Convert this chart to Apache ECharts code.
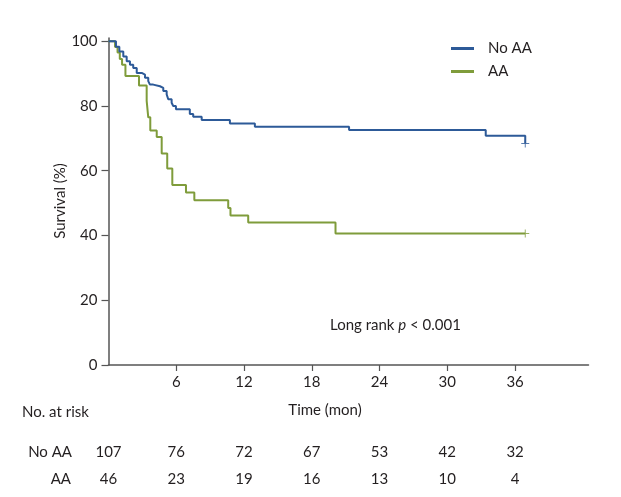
<!DOCTYPE html>
<html><head><meta charset="utf-8">
<script src="https://cdn.jsdelivr.net/npm/echarts@6/dist/echarts.min.js"></script>
<style>html,body{margin:0;padding:0;background:#fff}#c{width:621px;height:497px}</style>
</head><body><div id="c"></div>
<script>
// Kaplan-Meier step data (time in months, survival % after the event)
const noAATime = [0, 0.66, 0.96, 1.31, 1.61, 1.9, 2.19, 2.5, 2.94, 3.23, 3.52, 3.67, 3.96, 4.56, 4.85, 5.15, 5.29, 5.59, 5.73, 5.97, 7.2, 7.5, 8.25, 10.75, 12.96, 21.3, 33.4, 36.9];
const noAASurv = [100, 98.3, 96.8, 95.3, 93.8, 92.7, 91.7, 90.2, 89.7, 88.7, 87.7, 86.6, 86.1, 85.6, 84.6, 83.6, 82.1, 81.0, 80.0, 79.0, 77.5, 76.7, 75.7, 74.6, 73.6, 72.6, 70.8, 68.4];
const aaTime = [0, 0.58, 0.8, 1.0, 1.2, 1.5, 2.7, 3.38, 3.52, 3.7, 4.27, 4.71, 5.2, 5.65, 6.86, 7.6, 10.6, 10.8, 12.37, 20.1, 36.9];
const aaSurv = [100, 98.2, 96.5, 94.5, 92.7, 89.3, 86.3, 81.6, 76.5, 72.4, 70.4, 65.3, 60.7, 55.6, 53.3, 50.9, 48.5, 46.2, 44.0, 40.6, 40.6];
const censorNoAA = [[36.9, 68.4]];
const censorAA = [[36.9, 40.6]];
const xTicks = [6, 12, 18, 24, 30, 36];
const yTicks = [0, 20, 40, 60, 80, 100];
const riskTimes = [0, 6, 12, 18, 24, 30, 36];
const riskNoAA = [107, 76, 72, 67, 53, 42, 32];
const riskAA = [46, 23, 19, 16, 13, 10, 4];
const groupNames = ['No AA', 'AA'];

const BLUE = '#2d5a98';
const GREEN = '#7f9c3b';
const TXT = '#231f20';
const FONT = 'Lato';
const plus = 'path://M-0.12,-1H0.12V1H-0.12Z M-1,-0.12H1V0.12H-1Z';

const chart = echarts.init(document.getElementById('c'), null, {renderer: 'canvas'});
const zip = (a, b) => a.map((t, i) => [t, b[i]]);

chart.setOption({
  animation: false,
  textStyle: {fontFamily: FONT, color: TXT},
  grid: {left: 108.5, top: 38, width: 480, height: 327},
  legend: {
    data: groupNames, orient: 'vertical', left: 446, top: 36,
    icon: 'rect', itemWidth: 23, itemHeight: 3, itemGap: 8,
    textStyle: {fontFamily: FONT, fontSize: 15, color: TXT, padding: [0, 0, 0, 9]}
  },
  xAxis: {
    type: 'value', min: 0, max: 42.5,
    axisLine: {show: true, lineStyle: {color: '#555', width: 1.5}},
    axisTick: {show: true, customValues: xTicks, length: 6, lineStyle: {color: '#555', width: 1.2}},
    axisLabel: {customValues: xTicks, fontFamily: FONT, fontSize: 15, color: TXT, margin: 10},
    splitLine: {show: false}
  },
  yAxis: {
    type: 'value', min: 0, max: 101,
    axisLine: {show: true, lineStyle: {color: '#555', width: 1.5}},
    axisTick: {show: true, customValues: yTicks, length: 7, lineStyle: {color: '#555', width: 1.2}},
    axisLabel: {customValues: yTicks, fontFamily: FONT, fontSize: 15, color: TXT, margin: 11},
    splitLine: {show: false}
  },
  series: [
    {name: 'No AA', type: 'line', step: 'end', data: zip(noAATime, noAASurv), showSymbol: false,
     lineStyle: {color: BLUE, width: 2}, itemStyle: {color: BLUE}, z: 3},
    {name: 'AA', type: 'line', step: 'end', data: zip(aaTime, aaSurv), showSymbol: false,
     lineStyle: {color: GREEN, width: 2}, itemStyle: {color: GREEN}, z: 2},
    {name: 'No AA censor', type: 'scatter', data: censorNoAA, symbol: plus, symbolSize: 8,
     itemStyle: {color: BLUE}, z: 4},
    {name: 'AA censor', type: 'scatter', data: censorAA, symbol: plus, symbolSize: 8,
     itemStyle: {color: GREEN}, z: 4}
  ]
});

const px = t => chart.convertToPixel({xAxisIndex: 0}, t);
const graphics = [];
const txt = (text, x, y, align, extra) => graphics.push({
  type: 'text', x: x, y: y,
  style: Object.assign({text: text, fill: TXT, font: '15px ' + FONT, textAlign: align, textVerticalAlign: 'middle'}, extra || {})
});
graphics.push({
  type: 'text', x: 60, y: 201, rotation: Math.PI / 2,
  style: {text: 'Survival (%)', fill: TXT, font: '15px ' + FONT, textAlign: 'center', textVerticalAlign: 'middle'}
});
txt('Time (mon)', 325, 410, 'center');
txt('No. at risk', 22, 412, 'left');
txt(groupNames[0], 72, 452, 'right');
txt(groupNames[1], 71, 479, 'right');
riskTimes.forEach((t, i) => {
  txt(String(riskNoAA[i]), px(t), 452, 'center');
  txt(String(riskAA[i]), px(t), 479, 'center');
});
graphics.push({
  type: 'text', x: 330, y: 325,
  style: {
    text: '{n|Long rank }{i|p}{n| < 0.001}',
    textVerticalAlign: 'middle',
    rich: {
      n: {fontFamily: FONT, fontSize: 15, fill: TXT, color: TXT},
      i: {fontFamily: FONT, fontSize: 15, fontStyle: 'italic', fill: TXT, color: TXT}
    }
  }
});
chart.setOption({graphic: graphics});
</script>
</body></html>
